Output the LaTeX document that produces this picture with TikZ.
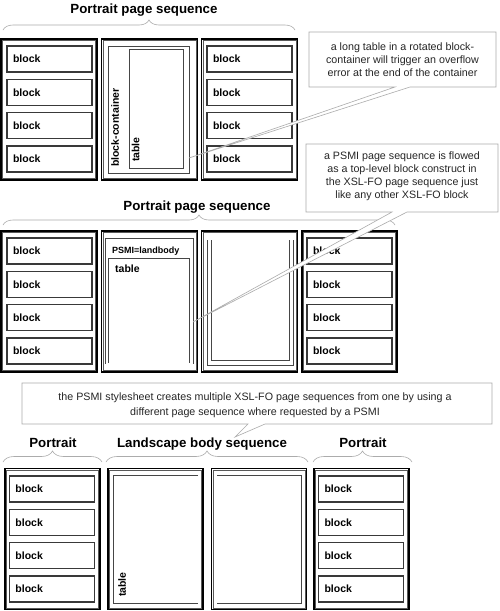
\documentclass[tikz,border=0pt]{standalone}
\usepackage{fontspec}
\setmainfont{Liberation Sans}
\usetikzlibrary{decorations.pathreplacing}
\newcommand\pagenode[5]{%
  \node[pagebox, minimum width=#4pt] (#1) at (#2,#3) {};
  \draw[pageinner] ([shift={(2.2,2.2)}]#1.north west) rectangle ([shift={(-2.2,-2.2)}]#1.south east);
  \node[inner sep=0pt] at (#1.center) {#5};}
\begin{document}
\begin{tikzpicture}[x=1pt,y=-1pt,
  pagebox/.style={draw=black, line width=1.3pt, minimum height=141pt, inner sep=0pt},
  pageinner/.style={draw=gray!70!black, line width=0.5pt},
  blockbox/.style={draw=gray!45!black, line width=1.1pt, minimum height=26pt, text width=73pt, inner xsep=6pt, inner ysep=0pt, align=left, font=\bfseries\fontsize{10.5}{12}\selectfont},
  innerline/.style={draw=gray!55!black, line width=0.9pt},
  title/.style={font=\bfseries\fontsize{13.3}{15}\selectfont, anchor=base, inner sep=0pt},
  bracestyle/.style={draw=gray!65, line width=0.6pt, decorate, decoration={brace, amplitude=#1}},
  bracestyle/.default=10pt,
  callout/.style={draw=gray!65, line width=0.6pt, fill=white},
  callouttext/.style={font=\fontsize{10.7}{13}\selectfont, align=center, text=black!85, inner sep=0pt},
  lbl/.style={font=\bfseries\fontsize{10.5}{12}\selectfont, inner sep=0pt},
]
\fill[white] (0,0) rectangle (500,611);
\useasboundingbox (0,0) rectangle (500,611);

% ---------- top section ----------
\node[title] (tt) at (144,13) {Portrait page sequence};
\draw[bracestyle] (3,30) -- (295,30);
\pagenode{T1}{49}{109.5}{96}{}
\pagenode{T2}{149.5}{109.5}{96}{}
\pagenode{T3}{249.5}{109.5}{96}{}
\foreach \i/\y in {1/59,2/92.33,3/125.67,4/159}{
  \node[blockbox] (T1b\i) at (49.5,\y) {block};
  \node[blockbox] (T3b\i) at (249.5,\y) {block};
}
\node[innerline, draw, minimum width=81pt, minimum height=127pt, inner sep=0pt] (T2bc) at (148.5,109.5) {};
\node[innerline, draw, minimum width=54pt, minimum height=119pt, inner sep=0pt] (T2tab) at (156,108.5) {};
\node[lbl, rotate=90, anchor=west] (T2bclbl) at (115,167) {block-container};
\node[lbl, rotate=90, anchor=west] (T2tablbl) at (135.5,162) {table};

% ---------- middle section ----------
\node[title] (mt) at (197,210) {Portrait page sequence};
\draw[bracestyle] (3,225) -- (395,225);
\pagenode{M1}{49}{301.5}{96}{}
\pagenode{M2}{149.5}{301.5}{96}{}
\pagenode{M3}{249.5}{301.5}{96}{}
\pagenode{M4}{349.5}{301.5}{95}{}
\foreach \i/\y in {1/251,2/284.33,3/317.67,4/351}{
  \node[blockbox] (M1b\i) at (49.5,\y) {block};
  \node[blockbox] (M4b\i) at (349.5,\y) {block};
}
\draw[innerline] (105,364) -- (105,238) -- (193,238) -- (193,364);
\draw[innerline] (108.5,363) -- (108.5,258) -- (189,258) -- (189,363);
\node[font=\bfseries\fontsize{9}{10}\selectfont, anchor=base west, inner sep=0pt] (M2psmi) at (112,253) {PSMI=landbody};
\node[lbl, anchor=base west] (M2tab) at (115,272) {table};
\draw[innerline] (207,240) -- (207,365) -- (293,365) -- (293,240);
\draw[innerline] (211,240) -- (211,360) -- (289,360) -- (289,240);

% ---------- bottom section ----------
\node[title] (bt1) at (53,447) {Portrait};
\node[title] (bt2) at (202,447) {Landscape body sequence};
\node[title] (bt3) at (363,447) {Portrait};
\draw[bracestyle=11pt] (3,462) -- (102,462);
\draw[bracestyle=11pt] (106,462) -- (308,462);
\draw[bracestyle=11pt] (313,462) -- (412,462);
\pagenode{B1}{52.5}{539}{95}{}
\pagenode{B2}{155.5}{539}{95}{}
\pagenode{B3}{259}{539}{95}{}
\pagenode{B4}{361.5}{539}{95}{}
\foreach \i/\y in {1/489,2/522.33,3/555.67,4/589}{
  \node[blockbox] (B1b\i) at (52,\y) {block};
  \node[blockbox] (B4b\i) at (361,\y) {block};
}
\draw[innerline] (198,475) -- (113,475) -- (113,603) -- (198,603);
\draw[innerline] (217,475) -- (301,475) -- (301,603) -- (217,603);
\node[lbl, rotate=90, anchor=west] (B2tab) at (122,597) {table};

% ---------- callouts ----------
\coordinate (c1tip) at (189,158);
\draw[callout] (395,87) -- (c1tip) -- (410,87) -- (496,87) -- (496,32) -- (309,32) -- (309,87) -- cycle;
\node[callouttext] (c1) at (402.5,59.5) {a long table in a rotated block-\\container will trigger an overflow\\error at the end of the container};

\coordinate (c2tip) at (193,322);
\draw[callout] (392,212) -- (c2tip) -- (407,212) -- (498,212) -- (498,144) -- (306,144) -- (306,212) -- cycle;
\node[callouttext] (c2) at (402,176) {a PSMI page sequence is flowed\\as a top-level block construct in\\the XSL-FO page sequence just\\like any other XSL-FO block};

\coordinate (c3tip) at (235,437);
\draw[callout] (248,424) -- (c3tip) -- (265,424) -- (492,424) -- (492,383) -- (22,383) -- (22,424) -- cycle;
\node[callouttext, font=\fontsize{10.7}{15}\selectfont] (c3) at (255,405) {the PSMI stylesheet creates multiple XSL-FO page sequences from one by using a\\different page sequence where requested by a PSMI};
\end{tikzpicture}
\end{document}
